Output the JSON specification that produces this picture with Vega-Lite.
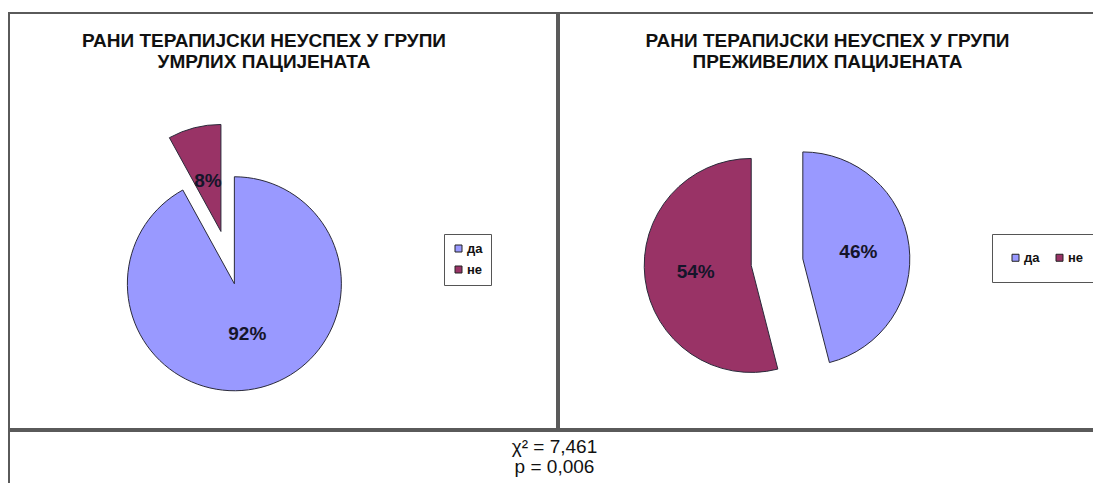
{
  "$schema": "https://vega.github.io/schema/vega-lite/v6.json",
  "padding": {"left": 8, "top": 12, "right": -4, "bottom": -4},
  "background": "white",
  "spacing": 0,
  "config": {
    "view": {"stroke": "#5a5a5a", "strokeWidth": 2},
    "font": "Liberation Sans",
    "concat": {"spacing": 0}
  },
  "datasets": {
    "pies": [
      {"group": "умрли", "answer": "да", "share": 0.92},
      {"group": "умрли", "answer": "не", "share": 0.08},
      {"group": "преживели", "answer": "да", "share": 0.46},
      {"group": "преживели", "answer": "не", "share": 0.54}
    ]
  },
  "vconcat": [
    {
      "hconcat": [
        {
          "width": 548,
          "height": 416,
          "data": {"name": "pies"},
          "transform": [{"filter": "datum.group === 'умрли'"}],
          "title": {
            "text": ["РАНИ ТЕРАПИЈСКИ НЕУСПЕХ У ГРУПИ", "УМРЛИХ ПАЦИЈЕНАТА"],
            "orient": "top", "anchor": "middle", "frame": "group",
            "offset": -59, "dx": -19,
            "font": "Liberation Sans", "fontSize": 19, "fontWeight": "bold",
            "lineHeight": 21, "color": "#111111"
          },
          "encoding": {
            "theta": {"field": "share", "type": "quantitative", "stack": "normalize"},
            "order": {"field": "answer", "type": "ordinal", "sort": "ascending"},
            "color": {
              "field": "answer", "type": "nominal",
              "scale": {"domain": ["да", "не"], "range": ["#9999FF", "#993366"]},
              "legend": {
                "orient": "none", "legendX": 435, "legendY": 221, "direction": "vertical",
                "title": null, "strokeColor": "#555555", "fillColor": "white",
                "padding": 8, "rowPadding": 7, "symbolType": "square", "symbolSize": 49,
                "symbolStrokeColor": "#222222", "symbolStrokeWidth": 1,
                "labelFont": "Liberation Sans", "labelFontSize": 13, "labelFontWeight": "bold",
                "labelColor": "#111111", "labelOffset": 2
              }
            },
            "x": {"datum": 0.399, "type": "quantitative", "scale": {"domain": [0, 1]}, "axis": null},
            "y": {"datum": 0.412, "type": "quantitative", "scale": {"domain": [0, 1]}, "axis": null}
          },
          "layer": [
            {
              "mark": {
                "type": "arc", "outerRadius": 107, "stroke": "#2a2a3a", "strokeWidth": 1,
                "xOffset": {"expr": "27*sin(PI*(datum.share_start+datum.share_end))"},
                "yOffset": {"expr": "-27*cos(PI*(datum.share_start+datum.share_end))"}
              }
            },
            {
              "mark": {
                "type": "text", "radius": 52, "font": "Liberation Sans", "fontSize": 19,
                "fontWeight": "bold", "align": "center", "baseline": "middle",
                "xOffset": {"expr": "27*sin(PI*(datum.share_start+datum.share_end))"},
                "yOffset": {"expr": "-27*cos(PI*(datum.share_start+datum.share_end))"}
              },
              "encoding": {
                "text": {"field": "share", "type": "quantitative", "format": ".0%"},
                "color": {"value": "#15152a"}
              }
            }
          ]
        },
        {
          "width": 541,
          "height": 416,
          "data": {"name": "pies"},
          "transform": [{"filter": "datum.group === 'преживели'"}],
          "title": {
            "text": ["РАНИ ТЕРАПИЈСКИ НЕУСПЕХ У ГРУПИ", "ПРЕЖИВЕЛИХ ПАЦИЈЕНАТА"],
            "orient": "top", "anchor": "middle", "frame": "group",
            "offset": -59, "dx": -2,
            "font": "Liberation Sans", "fontSize": 19, "fontWeight": "bold",
            "lineHeight": 21, "color": "#111111"
          },
          "encoding": {
            "theta": {"field": "share", "type": "quantitative", "stack": "normalize"},
            "order": {"field": "answer", "type": "ordinal", "sort": "ascending"},
            "color": {
              "field": "answer", "type": "nominal",
              "scale": {"domain": ["да", "не"], "range": ["#9999FF", "#993366"]},
              "legend": {
                "orient": "none", "legendX": 433, "legendY": 221, "direction": "horizontal",
                "title": null, "strokeColor": "#555555", "fillColor": "white",
                "padding": 17, "columnPadding": 13, "symbolType": "square", "symbolSize": 49,
                "symbolStrokeColor": "#222222", "symbolStrokeWidth": 1,
                "labelFont": "Liberation Sans", "labelFontSize": 13, "labelFontWeight": "bold",
                "labelColor": "#111111", "labelOffset": 2
              }
            },
            "x": {"datum": 0.403, "type": "quantitative", "scale": {"domain": [0, 1]}, "axis": null},
            "y": {"datum": 0.401, "type": "quantitative", "scale": {"domain": [0, 1]}, "axis": null}
          },
          "layer": [
            {
              "mark": {
                "type": "arc", "outerRadius": 107, "stroke": "#2a2a3a", "strokeWidth": 1,
                "xOffset": {"expr": "26*sin(PI*(datum.share_start+datum.share_end))"},
                "yOffset": {"expr": "-26*cos(PI*(datum.share_start+datum.share_end))"}
              }
            },
            {
              "mark": {
                "type": "text", "radius": 56, "font": "Liberation Sans", "fontSize": 19,
                "fontWeight": "bold", "align": "center", "baseline": "middle",
                "xOffset": {"expr": "26*sin(PI*(datum.share_start+datum.share_end))"},
                "yOffset": {"expr": "-26*cos(PI*(datum.share_start+datum.share_end))"}
              },
              "encoding": {
                "text": {"field": "share", "type": "quantitative", "format": ".0%"},
                "color": {"value": "#15152a"}
              }
            }
          ]
        }
      ],
      "spacing": 0,
      "resolve": {"scale": {"color": "independent", "x": "independent", "y": "independent"}, "legend": {"color": "independent"}}
    },
    {
      "width": 1089,
      "height": 59,
      "data": {"values": [{"stat": "χ² = 7,461", "row": 1}, {"stat": "p = 0,006", "row": 2}]},
      "mark": {"type": "text", "font": "Liberation Sans", "fontSize": 19, "color": "#111111", "dy": -3.5, "dx": 1},
      "encoding": {
        "y": {"field": "row", "type": "ordinal", "scale": {"type": "point", "padding": 0.975}, "axis": null},
        "text": {"field": "stat", "type": "nominal"}
      }
    }
  ]
}
